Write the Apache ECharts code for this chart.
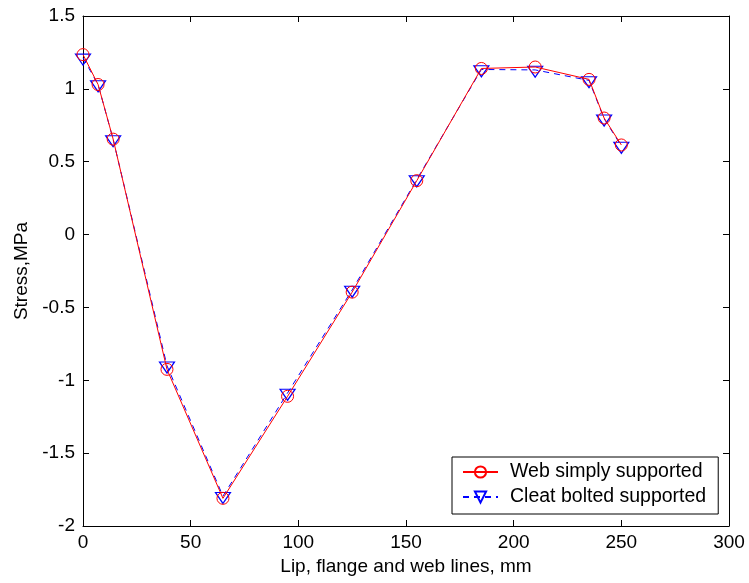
<!DOCTYPE html>
<html>
<head>
<meta charset="utf-8">
<script src="https://cdn.jsdelivr.net/npm/echarts@6/dist/echarts.min.js"></script>
<style>
  html, body { margin: 0; padding: 0; background: #fff; }
  #chart { width: 749px; height: 583px; }
</style>
</head>
<body>
<div id="chart"></div>
<script>
// Position along the lip, flange and web lines (mm)
const distance = [0, 7, 14, 39, 65, 95, 125, 155, 185, 210, 235, 242, 250];
// Stress (MPa) for the two support conditions
const webSimply = [1.235, 1.03, 0.655, -0.925, -1.81, -1.11, -0.395, 0.37, 1.14, 1.15, 1.065, 0.80, 0.615];
const cleatBolted = [1.213, 1.03, 0.653, -0.90, -1.795, -1.087, -0.38, 0.378, 1.133, 1.13, 1.058, 0.795, 0.608];

const seriesNames = ['Web simply supported', 'Cleat bolted supported'];
const xTicks = { min: 0, max: 300, interval: 50 };
const yTicks = { min: -2, max: 1.5, interval: 0.5 };

const FONT = 'Liberation Sans, Arial, Helvetica, sans-serif';

const pairs = (xs, ys) => xs.map((x, i) => [x, ys[i]]);

// Plain framed axis: black line, inward ticks, no grid lines
function boxAxis(extra) {
  return Object.assign({
    type: 'value',
    axisLine: { show: true, onZero: false, lineStyle: { color: '#000', width: 1 } },
    axisTick: { show: true, inside: true, length: 6, lineStyle: { color: '#000' } },
    splitLine: { show: false },
    axisLabel: { show: false }
  }, extra);
}

const chart = echarts.init(document.getElementById('chart'), null, { renderer: 'canvas' });

chart.setOption({
  backgroundColor: '#ffffff',
  animation: false,
  grid: { left: 83, right: 20, top: 16, bottom: 57, containLabel: false },
  xAxis: [
    boxAxis({
      position: 'bottom',
      min: xTicks.min, max: xTicks.max, interval: xTicks.interval,
      axisLabel: { show: true, color: '#000', fontFamily: FONT, fontSize: 19, margin: 7 },
      name: 'Lip, flange and web lines, mm',
      nameLocation: 'middle',
      nameGap: 31,
      nameTextStyle: { color: '#000', fontFamily: FONT, fontSize: 19 }
    }),
    boxAxis({ position: 'top', min: xTicks.min, max: xTicks.max, interval: xTicks.interval })
  ],
  yAxis: [
    boxAxis({
      position: 'left',
      min: yTicks.min, max: yTicks.max, interval: yTicks.interval,
      axisLabel: { show: true, color: '#000', fontFamily: FONT, fontSize: 19, margin: 8 },
      name: 'Stress,MPa',
      nameLocation: 'middle',
      nameGap: 51,
      nameTextStyle: { color: '#000', fontFamily: FONT, fontSize: 19 }
    }),
    boxAxis({ position: 'right', min: yTicks.min, max: yTicks.max, interval: yTicks.interval })
  ],
  legend: {
    orient: 'vertical',
    left: 452,
    top: 457,
    padding: [5, 12, 7, 10],
    itemWidth: 35,
    itemHeight: 14,
    itemGap: 5,
    backgroundColor: '#fff',
    borderColor: '#000',
    borderWidth: 1,
    borderRadius: 0,
    textStyle: { color: '#000', fontFamily: FONT, fontSize: 19.5, lineHeight: 19, padding: [0, 0, 0, 7] },
    data: seriesNames
  },
  series: [
    {
      name: seriesNames[1],
      type: 'line',
      xAxisIndex: 0, yAxisIndex: 0,
      data: pairs(distance, cleatBolted),
      symbol: 'triangle',
      symbolSize: [15, 11],
      symbolRotate: 180,
      symbolOffset: [0, 1.8],
      showAllSymbol: true,
      lineStyle: { color: '#0000ff', width: 1, type: [6, 5] },
      itemStyle: { color: 'rgba(0,0,0,0)', borderColor: '#0000ff', borderWidth: 1.2 },
      z: 2
    },
    {
      name: seriesNames[0],
      type: 'line',
      xAxisIndex: 0, yAxisIndex: 0,
      data: pairs(distance, webSimply),
      symbol: 'circle',
      symbolSize: 12,
      showAllSymbol: true,
      lineStyle: { color: '#ff0000', width: 1, type: 'solid' },
      itemStyle: { color: 'rgba(0,0,0,0)', borderColor: '#ff0000', borderWidth: 1 },
      z: 3
    }
  ]
});
</script>
</body>
</html>
